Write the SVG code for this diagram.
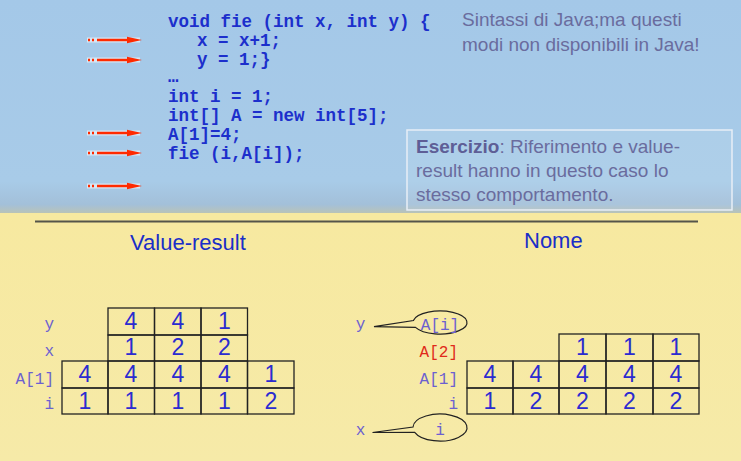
<svg xmlns="http://www.w3.org/2000/svg" width="741" height="461" viewBox="0 0 741 461">
<defs>
<linearGradient id="blue" x1="0" y1="0" x2="0" y2="1">
<stop offset="0" stop-color="#a4c8e8"/>
<stop offset="0.85" stop-color="#a8cbe8"/>
<stop offset="0.96" stop-color="#a3c0d9"/>
<stop offset="1" stop-color="#b9c3b8"/>
</linearGradient>
<linearGradient id="yellow" x1="0" y1="0" x2="0" y2="1">
<stop offset="0" stop-color="#f7e9a0"/>
<stop offset="1" stop-color="#f6eaa8"/>
</linearGradient>
</defs>
<style>
.code{font-family:"Liberation Mono","Courier New",monospace;font-weight:bold;font-size:17.5px;fill:#1c2fcc}
.note{font-family:"Liberation Sans",Arial,sans-serif;font-size:19px;fill:#6a6c9e}
.head{font-family:"Liberation Sans",Arial,sans-serif;font-size:22px;fill:#1a2ec8}
.lbl{font-family:"Liberation Mono","Courier New",monospace;font-size:16px;fill:#6c60d0}
.red{fill:#e02a1a}
.num{font-family:"Liberation Sans",Arial,sans-serif;font-size:23px;fill:#2b2bd0;text-anchor:middle}
.cell{fill:none;stroke:#222;stroke-width:1.3}
.callout{fill:none;stroke:#222;stroke-width:1.2}
.arrline{stroke:#ff2a00;stroke-width:2.6}
.glow{stroke:#ffffff;stroke-opacity:0.55;stroke-width:5}
</style>
<rect x="0" y="0" width="741" height="213" fill="url(#blue)"/>
<rect x="0" y="213" width="741" height="248" fill="url(#yellow)"/>

<g id="code">
<text class="code" x="168" y="27">void fie (int x, int y) {</text>
<text class="code" x="197" y="46">x = x+1;</text>
<text class="code" x="197" y="65">y = 1;}</text>
<text class="code" x="168" y="82" font-size="15">…</text>
<text class="code" x="168" y="102">int i = 1;</text>
<text class="code" x="168" y="121">int[] A = new int[5];</text>
<text class="code" x="168" y="140">A[1]=4;</text>
<text class="code" x="168" y="159">fie (i,A[i]);</text>
</g>

<g id="arrows">
<g transform="translate(0,40)">
<line class="glow" x1="87" y1="0" x2="140" y2="0"/>
<line x1="88" y1="0" x2="96" y2="0" stroke="#ff2a00" stroke-width="2.4" stroke-dasharray="2,2"/>
<line class="arrline" x1="97" y1="0" x2="130" y2="0"/>
<polygon points="127,-3.2 142,0 127,3.2" fill="#ff2a00"/>
</g>
<g transform="translate(0,60)">
<line class="glow" x1="87" y1="0" x2="140" y2="0"/>
<line x1="88" y1="0" x2="96" y2="0" stroke="#ff2a00" stroke-width="2.4" stroke-dasharray="2,2"/>
<line class="arrline" x1="97" y1="0" x2="130" y2="0"/>
<polygon points="127,-3.2 142,0 127,3.2" fill="#ff2a00"/>
</g>
<g transform="translate(0,133)">
<line class="glow" x1="87" y1="0" x2="140" y2="0"/>
<line x1="88" y1="0" x2="96" y2="0" stroke="#ff2a00" stroke-width="2.4" stroke-dasharray="2,2"/>
<line class="arrline" x1="97" y1="0" x2="130" y2="0"/>
<polygon points="127,-3.2 142,0 127,3.2" fill="#ff2a00"/>
</g>
<g transform="translate(0,153)">
<line class="glow" x1="87" y1="0" x2="140" y2="0"/>
<line x1="88" y1="0" x2="96" y2="0" stroke="#ff2a00" stroke-width="2.4" stroke-dasharray="2,2"/>
<line class="arrline" x1="97" y1="0" x2="130" y2="0"/>
<polygon points="127,-3.2 142,0 127,3.2" fill="#ff2a00"/>
</g>
<g transform="translate(0,186)">
<line class="glow" x1="87" y1="0" x2="140" y2="0"/>
<line x1="88" y1="0" x2="96" y2="0" stroke="#ff2a00" stroke-width="2.4" stroke-dasharray="2,2"/>
<line class="arrline" x1="97" y1="0" x2="130" y2="0"/>
<polygon points="127,-3.2 142,0 127,3.2" fill="#ff2a00"/>
</g>
</g>

<g id="note-java">
<text class="note" x="462" y="26">Sintassi di Java;ma questi</text>
<text class="note" x="462" y="51">modi non disponibili in Java!</text>
</g>

<g id="esercizio">
<rect x="407" y="130" width="325" height="80" fill="#ffffff" fill-opacity="0.08" stroke="#e8eef6" stroke-width="1.5"/>
<text class="note" x="416" y="153"><tspan font-weight="bold" fill="#5e5e96">Esercizio</tspan>: Riferimento e value-</text>
<text class="note" x="416" y="177">result hanno in questo caso lo</text>
<text class="note" x="416" y="201">stesso comportamento.</text>
</g>

<line x1="35" y1="221.5" x2="698" y2="221.5" stroke="#55554a" stroke-width="2"/>

<g id="heading-value-result"><text class="head" x="130" y="250">Value-result</text></g>
<g id="heading-nome"><text class="head" x="524" y="248">Nome</text></g>

<g id="table-value-result">
<text class="lbl" x="54" y="328.5" text-anchor="end">y</text>
<text class="lbl" x="54" y="355.5" text-anchor="end">x</text>
<text class="lbl" x="54" y="384" text-anchor="end">A[1]</text>
<text class="lbl" x="54" y="409" text-anchor="end">i</text>
<rect class="cell" x="108" y="308" width="46.5" height="27"/>
<rect class="cell" x="154.5" y="308" width="46.5" height="27"/>
<rect class="cell" x="201" y="308" width="46.5" height="27"/>
<rect class="cell" x="108" y="335" width="46.5" height="26"/>
<rect class="cell" x="154.5" y="335" width="46.5" height="26"/>
<rect class="cell" x="201" y="335" width="46.5" height="26"/>
<rect class="cell" x="62" y="361" width="46" height="27"/>
<rect class="cell" x="108" y="361" width="46.5" height="27"/>
<rect class="cell" x="154.5" y="361" width="46.5" height="27"/>
<rect class="cell" x="201" y="361" width="46.5" height="27"/>
<rect class="cell" x="247.5" y="361" width="46.5" height="27"/>
<rect class="cell" x="62" y="388" width="46" height="26"/>
<rect class="cell" x="108" y="388" width="46.5" height="26"/>
<rect class="cell" x="154.5" y="388" width="46.5" height="26"/>
<rect class="cell" x="201" y="388" width="46.5" height="26"/>
<rect class="cell" x="247.5" y="388" width="46.5" height="26"/>
<text class="num" x="131" y="328.5">4</text>
<text class="num" x="178" y="328.5">4</text>
<text class="num" x="224.5" y="328.5">1</text>
<text class="num" x="131" y="355">1</text>
<text class="num" x="178" y="355">2</text>
<text class="num" x="224.5" y="355">2</text>
<text class="num" x="85" y="382">4</text>
<text class="num" x="131" y="382">4</text>
<text class="num" x="178" y="382">4</text>
<text class="num" x="224.5" y="382">4</text>
<text class="num" x="271" y="382">1</text>
<text class="num" x="85" y="408.5">1</text>
<text class="num" x="131" y="408.5">1</text>
<text class="num" x="178" y="408.5">1</text>
<text class="num" x="224.5" y="408.5">1</text>
<text class="num" x="271" y="408.5">2</text>
</g>

<g id="table-nome">
<text class="lbl red" x="458" y="357" text-anchor="end">A[2]</text>
<text class="lbl" x="458" y="384" text-anchor="end">A[1]</text>
<text class="lbl" x="458" y="409" text-anchor="end">i</text>
<rect class="cell" x="559" y="334" width="47" height="27"/>
<rect class="cell" x="606" y="334" width="47" height="27"/>
<rect class="cell" x="653" y="334" width="46" height="27"/>
<rect class="cell" x="467" y="361" width="46" height="27"/>
<rect class="cell" x="513" y="361" width="46" height="27"/>
<rect class="cell" x="559" y="361" width="47" height="27"/>
<rect class="cell" x="606" y="361" width="47" height="27"/>
<rect class="cell" x="653" y="361" width="46" height="27"/>
<rect class="cell" x="467" y="388" width="46" height="26"/>
<rect class="cell" x="513" y="388" width="46" height="26"/>
<rect class="cell" x="559" y="388" width="47" height="26"/>
<rect class="cell" x="606" y="388" width="47" height="26"/>
<rect class="cell" x="653" y="388" width="46" height="26"/>
<text class="num" x="582.5" y="355">1</text>
<text class="num" x="629.5" y="355">1</text>
<text class="num" x="676" y="355">1</text>
<text class="num" x="490" y="382">4</text>
<text class="num" x="536" y="382">4</text>
<text class="num" x="582.5" y="382">4</text>
<text class="num" x="629.5" y="382">4</text>
<text class="num" x="676" y="382">4</text>
<text class="num" x="490" y="408.5">1</text>
<text class="num" x="536" y="408.5">2</text>
<text class="num" x="582.5" y="408.5">2</text>
<text class="num" x="629.5" y="408.5">2</text>
<text class="num" x="676" y="408.5">2</text>
</g>

<g id="callout-y">
<text class="lbl" x="360.5" y="329" text-anchor="middle">y</text>
<path class="callout" d="M 413.4 320.5 A 27 11.5 0 1 1 415.5 327.4 L 374 326.7 Z"/>
<text class="lbl" x="440" y="330" text-anchor="middle">A[i]</text>
</g>

<g id="callout-x">
<text class="lbl" x="360.5" y="435" text-anchor="middle">x</text>
<path class="callout" d="M 413 427 A 27 13.5 0 1 1 414.7 432.3 L 372.5 432.5 Z"/>
<text class="lbl" x="440" y="435" text-anchor="middle">i</text>
</g>
</svg>
